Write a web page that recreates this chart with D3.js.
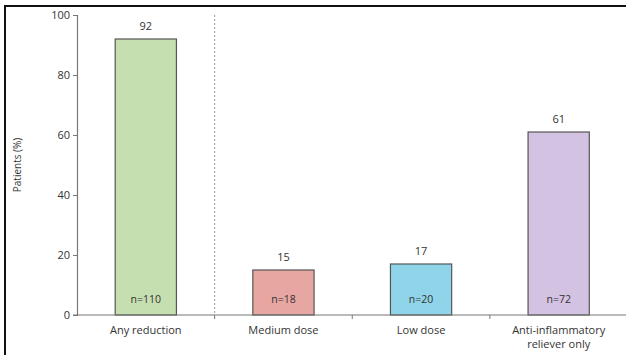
<!DOCTYPE html>
<html>
<head>
<meta charset="utf-8">
<script src="https://cdn.jsdelivr.net/npm/d3@7"></script>
<style>
  html, body { margin: 0; padding: 0; background: #fff; overflow: hidden; }
  svg { display: block; }
  text { font-family: "Open Sans", "Noto Sans", sans-serif; fill: #333; }
</style>
</head>
<body>
<svg id="chart" width="626" height="355"></svg>
<script>
// Proportion of patients with a reduction in maintenance dose, by group
const categories = ["Any reduction", "Medium dose", "Low dose", "Anti-inflammatory reliever only"];
const categoryLines = [["Any reduction"], ["Medium dose"], ["Low dose"], ["Anti-inflammatory", "reliever only"]];
const values = [92, 15, 17, 61];
const counts = ["n=110", "n=18", "n=20", "n=72"];
const colors = ["#c6dfb1", "#e8a6a3", "#8fd4e8", "#d3c2e2"];
const yTicks = [0, 20, 40, 60, 80, 100];

const svg = d3.select("#chart");
const margin = { left: 77, top: 15, bottom: 315, right: 627.5 };

// Outer frame (top and left edges fall inside the window)
svg.append("rect")
  .attr("x", 5).attr("y", 6)
  .attr("width", 640).attr("height", 400)
  .attr("fill", "none").attr("stroke", "#111").attr("stroke-width", 2);

const x = d3.scaleBand().domain(categories).range([margin.left, margin.right]).padding(0);
const y = d3.scaleLinear().domain([0, 100]).range([margin.bottom, margin.top]);
const barW = x.bandwidth() * 0.445;

// Dotted separator between the overall bar and the subgroups
svg.append("line")
  .attr("x1", x(categories[1])).attr("x2", x(categories[1]))
  .attr("y1", y(100)).attr("y2", y(0))
  .attr("stroke", "#999").attr("stroke-width", 1).attr("stroke-dasharray", "2,2");

// Bars
svg.selectAll("rect.bar").data(categories).join("rect")
  .attr("class", "bar")
  .attr("x", d => x(d) + x.bandwidth() / 2 - barW / 2)
  .attr("y", (d, i) => y(values[i]))
  .attr("width", barW)
  .attr("height", (d, i) => y(0) - y(values[i]))
  .attr("fill", (d, i) => colors[i])
  .attr("stroke", "#555").attr("stroke-width", 1.2);

// Value labels above bars
svg.selectAll("text.val").data(categories).join("text")
  .attr("class", "val")
  .attr("x", d => x(d) + x.bandwidth() / 2)
  .attr("y", (d, i) => y(values[i]) - 9)
  .attr("text-anchor", "middle")
  .attr("font-size", 11)
  .text((d, i) => values[i]);

// Sample sizes inside bars
svg.selectAll("text.n").data(categories).join("text")
  .attr("class", "n")
  .attr("x", d => x(d) + x.bandwidth() / 2)
  .attr("y", y(0) - 12)
  .attr("text-anchor", "middle")
  .attr("font-size", 10.5)
  .text((d, i) => counts[i]);

// Y axis
const yAxis = svg.append("g")
  .attr("transform", `translate(${margin.left},0)`)
  .call(d3.axisLeft(y).tickValues(yTicks).tickSize(4).tickPadding(3));
yAxis.select(".domain").attr("stroke", "#777").attr("stroke-width", 1.2);
yAxis.selectAll(".tick line").attr("stroke", "#777");
yAxis.selectAll(".tick text").attr("font-size", 11).attr("fill", "#555")
  .attr("font-family", "'Open Sans', sans-serif");

// X axis with ticks at band boundaries
const xAxis = svg.append("g");
xAxis.append("line")
  .attr("x1", margin.left - 4).attr("x2", 626)
  .attr("y1", y(0)).attr("y2", y(0))
  .attr("stroke", "#777").attr("stroke-width", 1.2);
xAxis.selectAll("line.tk").data(categories.slice(1)).join("line")
  .attr("class", "tk")
  .attr("x1", d => x(d)).attr("x2", d => x(d))
  .attr("y1", y(0)).attr("y2", y(0) + 4)
  .attr("stroke", "#777");

// Category labels
const labels = svg.selectAll("text.cat").data(categories).join("text")
  .attr("class", "cat")
  .attr("x", d => x(d) + x.bandwidth() / 2)
  .attr("y", y(0) + 19)
  .attr("text-anchor", "middle")
  .attr("font-size", 11);
labels.selectAll("tspan").data((d, i) => categoryLines[i]).join("tspan")
  .attr("x", function () { return d3.select(this.parentNode).attr("x"); })
  .attr("dy", (d, j) => j === 0 ? 0 : 14)
  .text(d => d);

// Y axis title
svg.append("text")
  .attr("transform", `translate(21,${(y(0) + y(100)) / 2}) rotate(-90)`)
  .attr("text-anchor", "middle")
  .attr("font-size", 10)
  .text("Patients (%)");
</script>
</body>
</html>
